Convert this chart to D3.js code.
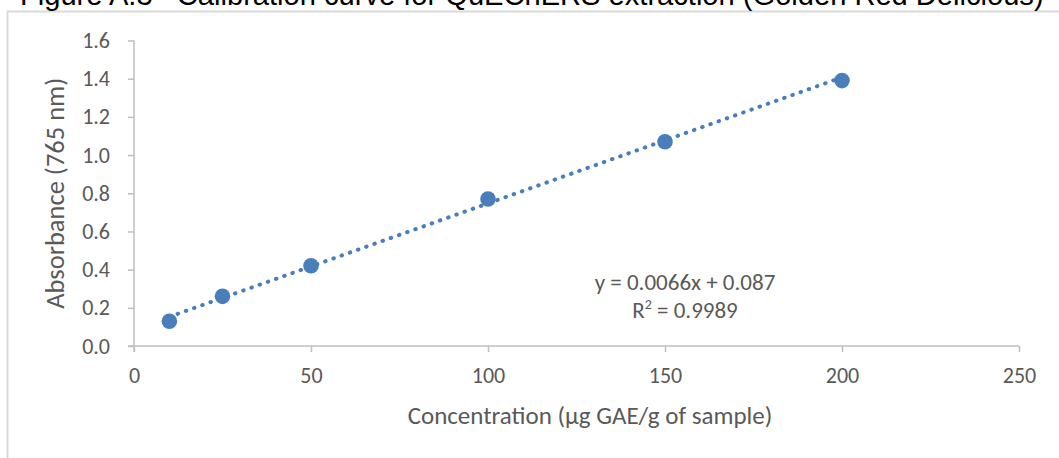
<!DOCTYPE html>
<html>
<head>
<meta charset="utf-8">
<script src="https://cdn.jsdelivr.net/npm/d3@7"></script>
<style>
  html, body { margin: 0; padding: 0; background: #fff; }
  svg { display: block; }
</style>
</head>
<body>
<svg id="chart" width="1059" height="458"></svg>
<script>
// Calibration standards: concentration (µg GAE/g) vs absorbance at 765 nm
const concentration = [10, 25, 50, 100, 150, 200];
const absorbance = [0.13, 0.26, 0.42, 0.77, 1.07, 1.39];

// Linear fit reported for the standards
const slope = 0.0066;
const intercept = 0.087;
const rSquared = 0.9989;

const xTicks = [0, 50, 100, 150, 200, 250];
const yTicks = [0, 0.2, 0.4, 0.6, 0.8, 1.0, 1.2, 1.4, 1.6];

const titleText = "Figure A.3   Calibration curve for QuEChERS extraction (Golden Red Delicious)";
const xTitle = "Concentration (\u03bcg GAE/g of sample)";
const yTitle = "Absorbance (765 nm)";

const svg = d3.select("#chart");
const W = 1059, H = 458;
const plot = { left: 134, right: 1019, top: 40.5, bottom: 346 };
const blue = "#4A7EBB";
const axisGrey = "#BFBFBF";
const textGrey = "#595959";
const font = "Calibri, Carlito, Lato, sans-serif";

// Chart area frame
svg.append("rect")
  .attr("x", 7.5).attr("y", 11.5)
  .attr("width", W + 20).attr("height", H + 20)
  .attr("fill", "#fff")
  .attr("stroke", "#D9D9D9").attr("stroke-width", 2);

// Figure caption above the frame (runs off the top edge)
svg.append("text")
  .attr("x", 20).attr("y", 5)
  .attr("font-family", "'Liberation Sans', Arial, sans-serif")
  .attr("font-size", 29.1)
  .attr("fill", "#000")
  .style("white-space", "pre")
  .text(titleText);

const x = d3.scaleLinear().domain([0, 250]).range([plot.left, plot.right]);
const y = d3.scaleLinear().domain([0, 1.6]).range([plot.bottom, plot.top]);

// X axis
const gx = svg.append("g")
  .attr("transform", `translate(0,${plot.bottom})`)
  .call(d3.axisBottom(x).tickValues(xTicks).tickSize(6).tickPadding(15).tickFormat(d3.format("d")));
// Y axis
const gy = svg.append("g")
  .attr("transform", `translate(${plot.left},0)`)
  .call(d3.axisLeft(y).tickValues(yTicks).tickSize(6).tickPadding(18).tickFormat(d3.format(".1f")));

[gx, gy].forEach(g => {
  g.select(".domain").attr("stroke", axisGrey).attr("stroke-width", 1.5);
  g.selectAll(".tick line").attr("stroke", axisGrey).attr("stroke-width", 1.5);
  g.selectAll(".tick text")
    .attr("fill", textGrey)
    .attr("font-family", font)
    .attr("font-size", 22);
});
// Outside ticks, with the axis lines meeting at the origin
gx.select(".domain").attr("d", `M${plot.left - 6},0H${plot.right}`);
gy.select(".domain").attr("d", `M0,${plot.bottom + 6}V${plot.top}`);

// Axis titles
svg.append("text")
  .attr("x", 590).attr("y", 424)
  .attr("text-anchor", "middle")
  .attr("font-family", font).attr("font-size", 25)
  .attr("fill", textGrey)
  .text(xTitle);

svg.append("text")
  .attr("transform", `translate(64,${(plot.top + plot.bottom) / 2}) rotate(-90)`)
  .attr("text-anchor", "middle")
  .attr("font-family", font).attr("font-size", 26.5)
  .attr("fill", textGrey)
  .text(yTitle);

// Dotted linear trendline across the range of standards
const xMin = d3.min(concentration), xMax = d3.max(concentration);
const fit = [xMin, xMax].map(c => [c, slope * c + intercept]);
svg.append("path")
  .datum(fit)
  .attr("d", d3.line().x(d => x(d[0])).y(d => y(d[1])))
  .attr("fill", "none")
  .attr("stroke", blue)
  .attr("stroke-width", 4)
  .attr("stroke-linecap", "round")
  .attr("stroke-dasharray", "0.5 8.2");

// Data markers
svg.append("g").selectAll("circle")
  .data(concentration.map((c, i) => [c, absorbance[i]]))
  .join("circle")
  .attr("cx", d => x(d[0]))
  .attr("cy", d => y(d[1]))
  .attr("r", 7.8)
  .attr("fill", blue);

// Regression equation label
const eq = svg.append("text")
  .attr("text-anchor", "middle")
  .attr("font-family", font).attr("font-size", 23)
  .attr("fill", textGrey);
eq.append("tspan").attr("x", 685).attr("y", 290)
  .text(`y = ${slope}x + ${intercept}`);
const r2 = eq.append("tspan").attr("x", 685).attr("y", 318);
r2.append("tspan").text("R");
r2.append("tspan").attr("font-size", 14).attr("dy", -9).text("2");
r2.append("tspan").attr("dy", 9).text(` = ${rSquared}`);
</script>
</body>
</html>
